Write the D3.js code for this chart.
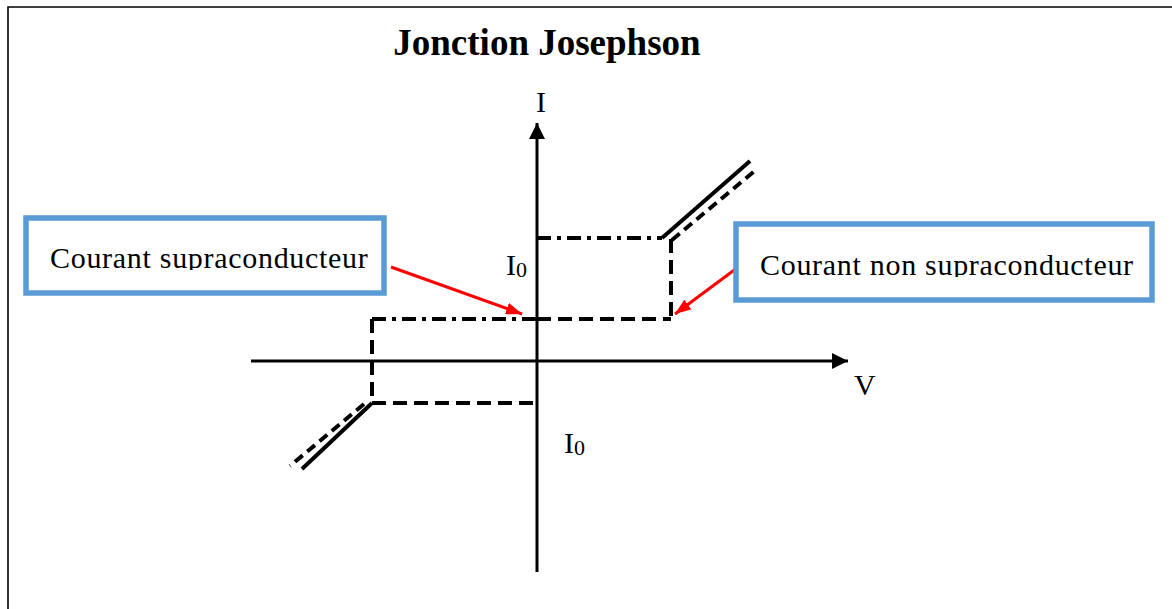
<!DOCTYPE html>
<html>
<head>
<meta charset="utf-8">
<script src="https://cdn.jsdelivr.net/npm/d3@7"></script>
<style>
  body { margin: 0; background: #fff; }
  text { font-family: "Liberation Serif", "Times New Roman", serif; }
</style>
</head>
<body>
<div id="chart"></div>
<script>
// chart data (V, I in arbitrary units, origin = 0,0)
const vDomain = [-14.3, 15.55];
const iDomain = [-10.55, 11.9];

// Josephson characteristic segments: [v0, i0, v1, i1]
const dashDotSegs = [
  [0, 6.15, 6.25, 6.15],
  [-8.25, 2.1, 0, 2.1]
];
const dashedSegs = [
  [6.7, 6.1, 6.7, 2.1],
  [0, 2.1, 6.7, 2.1],
  [-8.25, 2.1, -8.25, -2.1],
  [-8.25, -2.1, 0, -2.1]
];
const solidDiag = [
  [6.25, 6.15, 10.65, 10.0],
  [-8.25, -2.1, -11.75, -5.4]
];
const dashedDiag = [
  [6.75, 6.05, 11.0, 9.6],
  [-8.65, -2.15, -12.35, -5.25]
];
// red pointer arrows [vStart, iStart, vTip, iTip]
const pointers = [
  [-7.3, 4.7, -0.75, 2.35],
  [10.0, 4.65, 6.9, 2.35]
];
const boxLabels = ["Courant supraconducteur", "Courant non supraconducteur"];
const title = "Jonction Josephson";

const W = 1172, H = 609;

const svg = d3.select("#chart")
  .append("svg")
  .attr("width", W)
  .attr("height", H);

// frame
svg.append("path")
  .attr("d", `M8,${H} L8,7 L${W},7`)
  .attr("fill", "none")
  .attr("stroke", "black")
  .attr("stroke-width", 1.6);

// scales
const x = d3.scaleLinear().domain(vDomain).range([251, 848]);
const y = d3.scaleLinear().domain(iDomain).range([572, 123]);

// arrow markers
const defs = svg.append("defs");
defs.append("marker")
  .attr("id", "axhead")
  .attr("viewBox", "0 0 16 16")
  .attr("refX", 16).attr("refY", 8)
  .attr("markerWidth", 16).attr("markerHeight", 16)
  .attr("markerUnits", "userSpaceOnUse")
  .attr("orient", "auto")
  .append("path").attr("d", "M0,0 L16,8 L0,16 Z").attr("fill", "black");
defs.append("marker")
  .attr("id", "redhead")
  .attr("viewBox", "0 0 16 12")
  .attr("refX", 16).attr("refY", 6)
  .attr("markerWidth", 16).attr("markerHeight", 12)
  .attr("markerUnits", "userSpaceOnUse")
  .attr("orient", "auto")
  .append("path").attr("d", "M0,0 L16,6 L0,12 Z").attr("fill", "#ff0000");

// axes
svg.append("line")
  .attr("x1", x(vDomain[0])).attr("y1", y(0))
  .attr("x2", x(vDomain[1])).attr("y2", y(0))
  .attr("stroke", "black").attr("stroke-width", 3)
  .attr("marker-end", "url(#axhead)");
svg.append("line")
  .attr("x1", x(0)).attr("y1", y(iDomain[0]))
  .attr("x2", x(0)).attr("y2", y(iDomain[1]))
  .attr("stroke", "black").attr("stroke-width", 3)
  .attr("marker-end", "url(#axhead)");

// characteristic
function drawSegs(data, dash) {
  svg.append("g").selectAll("line")
    .data(data)
    .join("line")
      .attr("x1", d => x(d[0])).attr("y1", d => y(d[1]))
      .attr("x2", d => x(d[2])).attr("y2", d => y(d[3]))
      .attr("stroke", "black")
      .attr("stroke-width", 4)
      .attr("stroke-dasharray", dash);
}
drawSegs(dashDotSegs, "14,6,4,6");
drawSegs(dashedSegs, "14,7");
drawSegs(solidDiag, null);
drawSegs(dashedDiag, "10,6");

// red pointers
svg.append("g").selectAll("line")
  .data(pointers)
  .join("line")
    .attr("x1", d => x(d[0])).attr("y1", d => y(d[1]))
    .attr("x2", d => x(d[2])).attr("y2", d => y(d[3]))
    .attr("stroke", "#ff0000")
    .attr("stroke-width", 3)
    .attr("marker-end", "url(#redhead)");

// title
svg.append("text")
  .attr("x", 547).attr("y", 55)
  .attr("text-anchor", "middle")
  .style("font-size", "37px")
  .style("font-weight", "bold")
  .text(title);

// axis labels
svg.append("text").attr("x", 536).attr("y", 112).style("font-size", "30px").text("I");
svg.append("text").attr("x", 854).attr("y", 395).style("font-size", "30px").text("V");

function iZero(px, py) {
  const t = svg.append("text").attr("x", px).attr("y", py).style("font-size", "30px");
  t.append("tspan").text("I");
  t.append("tspan").attr("dy", 2).style("font-size", "22px").text("0");
}
iZero(506, 275);
iZero(564, 453);

// label boxes
const boxes = [
  { x: 26, y: 218, w: 358, h: 75, tx: 50, ty: 268 },
  { x: 736, y: 224, w: 416, h: 76, tx: 760, ty: 275 }
];
boxes.forEach((b, i) => {
  svg.append("rect")
    .attr("x", b.x).attr("y", b.y)
    .attr("width", b.w).attr("height", b.h)
    .attr("fill", "white")
    .attr("stroke", "#5b9bd5")
    .attr("stroke-width", 5.5);
  defs.append("clipPath").attr("id", "clip" + i)
    .append("rect")
    .attr("x", b.x).attr("y", b.y)
    .attr("width", b.w).attr("height", b.ty + 2 - b.y);
  svg.append("text")
    .attr("x", b.tx).attr("y", b.ty)
    .attr("clip-path", `url(#clip${i})`)
    .style("font-size", "30px")
    .style("letter-spacing", "0.7px")
    .text(boxLabels[i]);
});
</script>
</body>
</html>
